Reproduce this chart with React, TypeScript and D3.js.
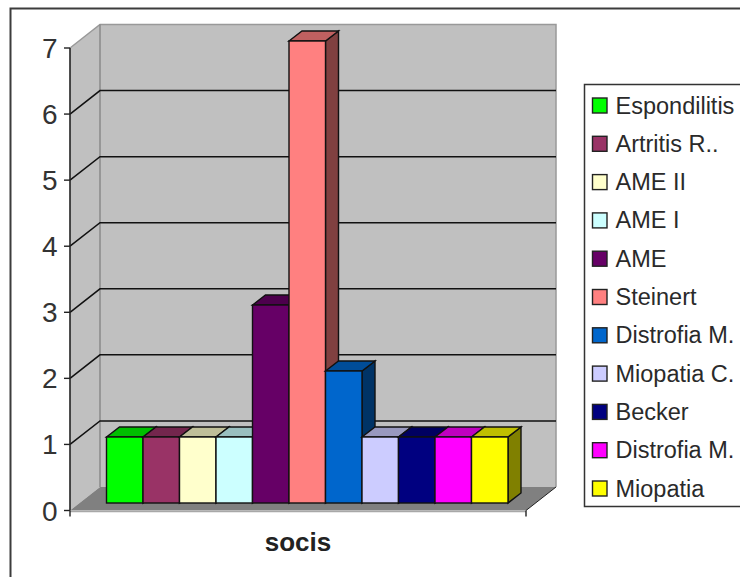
import React from "react";
import * as d3 from "d3";

const seriesNames = ["Espondilitis", "Artritis R..", "AME II", "AME I", "AME", "Steinert", "Distrofia M.", "Miopatia C.", "Becker", "Distrofia M.", "Miopatia"];
const seriesValues = [1, 1, 1, 1, 3, 7, 2, 1, 1, 1, 1];
const seriesColors = ["#00ff00", "#993366", "#ffffcc", "#ccffff", "#660066", "#ff8080", "#0066cc", "#ccccff", "#000080", "#ff00ff", "#ffff00"];
const axisTicks = [0, 1, 2, 3, 4, 5, 6, 7];
const categoryLabel = "socis";

const FONT = "'Liberation Sans', Arial, sans-serif";
const depthX = 30;
const depthY = -23.5;
const barDepthX = 13;
const barDepthY = -10;

// Value axis on the front-left edge of the plot box
const yFront = d3.scaleLinear().domain([0, 7]).range([510.5, 48]);
const xFront = d3.scaleLinear().domain([0, 1]).range([70, 526]);
// Baseline of the bars sits partway into the floor
const yBar = d3.scaleLinear().domain([0, 7]).range([503, 41]);
const xBar = d3.scaleBand<number>().domain(d3.range(seriesValues.length)).range([106.5, 508]).padding(0);
const yLegend = d3.scalePoint<number>().domain(d3.range(seriesNames.length)).range([105.5, 488.5]);

const shade = (color: string, k: number) => {
  const c = d3.rgb(color);
  return d3.rgb(c.r * k, c.g * k, c.b * k).formatHex();
};
const poly = (pts: [number, number][]) => d3.line()(pts) + "Z";

export default function App() {
  const x0 = xFront(0);
  const x1 = xFront(1);
  const y0 = yFront(0);
  const y7 = yFront(7);
  const bw = xBar.bandwidth();
  return (
    <svg width={740} height={577} style={{ position: "absolute", left: 0, top: 0, background: "#fff", display: "block" }}>
      <path d="M10.5 577V8.5H740" fill="none" stroke="#3c3c3c" strokeWidth={2} />

      {/* Walls and floor of the 3D box */}
      <path d={poly([[x0 + depthX, y7 + depthY], [x1 + depthX, y7 + depthY], [x1 + depthX, y0 + depthY], [x0 + depthX, y0 + depthY]])} fill="#c0c0c0" />
      <path d={poly([[x0, y7], [x0 + depthX, y7 + depthY], [x0 + depthX, y0 + depthY], [x0, y0]])} fill="#c0c0c0" />
      <path d={poly([[x0, y0], [x0 + depthX, y0 + depthY], [x1 + depthX, y0 + depthY], [x1, y0]])} fill="#808080" />
      <path d={`M${x0} ${y7}L${x0 + depthX} ${y7 + depthY}H${x1 + depthX}V${y0 + depthY}`} fill="none" stroke="#999" strokeWidth={1.5} />
      <path d={`M${x0 + depthX} ${y7 + depthY}V${y0 + depthY}`} fill="none" stroke="#8a8a8a" strokeWidth={1.5} />
      <path d={`M${x0} ${y0 + 1}H${x1}`} stroke="#a8a8a8" strokeWidth={1.5} />
      <path d={`M${x1} ${y0}L${x1 + depthX} ${y0 + depthY}`} stroke="#222" strokeWidth={1} />

      {/* Gridlines across the side and back walls */}
      {axisTicks.filter((t) => t > 0 && t < 7).map((t) => (
        <path key={t} d={`M${x0} ${yFront(t)}L${x0 + depthX} ${yFront(t) + depthY}H${x1 + depthX}`} fill="none" stroke="#111" strokeWidth={1.5} />
      ))}

      {/* Value axis */}
      <path d={`M${x0} ${y7}V${y0}`} stroke="#222" strokeWidth={1.6} />
      {axisTicks.map((t) => (
        <g key={t}>
          <path d={`M${x0 - 6} ${yFront(t)}H${x0}`} stroke="#222" strokeWidth={1.4} />
          <text x={57.5} y={yFront(t) + 10} textAnchor="end" fontFamily={FONT} fontSize={28} fill="#333">{t}</text>
        </g>
      ))}
      <path d={`M${x0} ${y0}V${y0 + 6}M${x1} ${y0}V${y0 + 6}`} stroke="#222" strokeWidth={1.4} />

      {/* Bars, painted left to right so each front face covers its neighbour's side */}
      {seriesValues.map((v, i) => {
        const x = xBar(i)!;
        const top = yBar(v);
        const base = yBar(0);
        const color = seriesColors[i];
        return (
          <g key={i} stroke="#111" strokeWidth={1.4} strokeLinejoin="miter">
            <path d={poly([[x + bw, top], [x + bw + barDepthX, top + barDepthY], [x + bw + barDepthX, base + barDepthY], [x + bw, base]])} fill={shade(color, 0.5)} />
            <path d={poly([[x, top], [x + barDepthX, top + barDepthY], [x + bw + barDepthX, top + barDepthY], [x + bw, top]])} fill={shade(color, 0.75)} />
            <rect x={x} y={top} width={bw} height={base - top} fill={color} />
          </g>
        );
      })}

      <text x={298} y={551} textAnchor="middle" fontFamily={FONT} fontSize={26} fontWeight="bold" fill="#222">{categoryLabel}</text>

      {/* Legend */}
      <path d="M740 84.5H584.5V506.5H740" fill="none" stroke="#333" strokeWidth={1.5} />
      {seriesNames.map((name, i) => (
        <g key={i}>
          <rect x={592.5} y={yLegend(i)! - 7.5} width={14.5} height={15} fill={seriesColors[i]} stroke="#222" strokeWidth={1.4} />
          <text x={615.5} y={yLegend(i)! + 8} fontFamily={FONT} fontSize={23.5} fill="#2a2a2a">{name}</text>
        </g>
      ))}
    </svg>
  );
}
